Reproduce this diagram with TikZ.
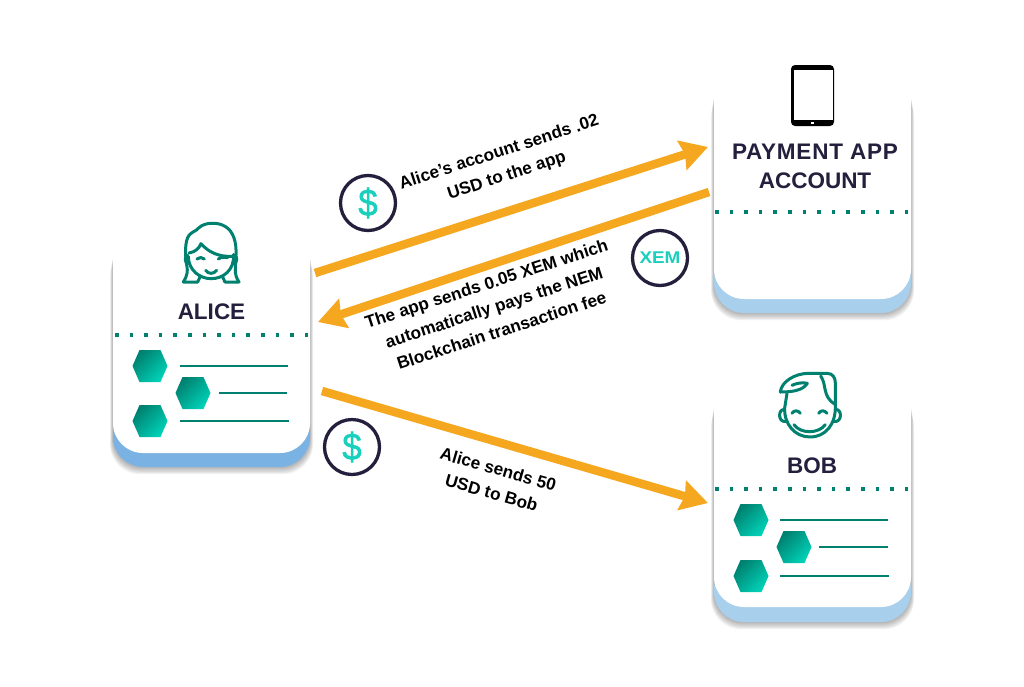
\documentclass[tikz,border=0pt]{standalone}
\usepackage{fontspec}
\usepackage{graphicx}
\setmainfont{Liberation Sans}
\newfontfamily\dollarfont[FakeBold=1.2]{Liberation Sans}
\usetikzlibrary{arrows.meta}
\definecolor{ink}{HTML}{231F3D}
\definecolor{teal}{HTML}{00806F}
\definecolor{mint}{HTML}{00D2B8}
\definecolor{cyanc}{HTML}{18D0BB}
\definecolor{orangec}{HTML}{F5A81F}
\definecolor{blueA}{HTML}{7AB3E3}
\definecolor{blueB}{HTML}{A8CFEC}
\tikzset{
  flow/.style={draw=orangec,line width=8.5pt,-{Stealth[length=27pt,width=30pt,inset=3pt]}},
  iconline/.style={draw=teal,line width=3pt,line cap=round,line join=round,fill=none},
  listline/.style={draw=teal,line width=2pt},
  dots/.style={draw=teal,line width=3.5pt,dash pattern=on 3.5pt off 11.1pt},
  title/.style={text=ink,font=\fontsize{22.5}{29}\selectfont\bfseries,align=center,inner sep=0pt},
  flowlabel/.style={text=black,font=\fontsize{17.2}{24.5}\selectfont\bfseries,align=center,inner sep=0pt},
  coin/.style={circle,draw=ink,line width=3.3pt,minimum size=55pt,inner sep=0pt,text=cyanc},
  cardface/.style={rounded corners=30pt,minimum width=197pt,inner sep=0pt,outer sep=0pt,fill=white},
}
% shadow: left, top, right, blue bottom
\newcommand{\cardshadow}[4]{%
  \foreach \k in {1,...,6}{%
    \fill[black,opacity=.05,rounded corners=30pt]
      ({#1-.5*\k},{#2+5+3*\k}) rectangle ({#3+.5*\k},{#4+1.2*\k});
  }%
}
\newcommand{\hexa}[2]{%
  \shade[top color=teal,bottom color=mint,shading angle=45]
    ({#1-17.5},#2) -- ({#1-10.5},{#2-16}) -- ({#1+10.5},{#2-16}) -- ({#1+17.5},#2)
    -- ({#1+10.5},{#2+16}) -- ({#1-10.5},{#2+16}) -- cycle;
}
\begin{document}
\begin{tikzpicture}[x=1pt,y=-1pt]
\useasboundingbox (0,0) rectangle (1024,686);
\fill[white] (0,0) rectangle (1024,686);

% ---------- cards
\cardshadow{113}{225}{310}{467}
\node[cardface,fill=blueA,minimum height=67pt] (aliceback) at (211.5,433.5) {};
\node[cardface,minimum height=228pt] (alice) at (211.5,339) {};
\cardshadow{714}{65}{911}{313}
\node[cardface,fill=blueB,minimum height=63pt] (appback) at (812.5,281.5) {};
\node[cardface,minimum height=234pt] (app) at (812.5,182) {};
\cardshadow{714}{375}{911}{622}
\node[cardface,fill=blueB,minimum height=62pt] (bobback) at (812.5,591) {};
\node[cardface,minimum height=232pt] (bob) at (812.5,491) {};

% ---------- titles
\node[title] (alicetitle) at (211.5,311.5) {ALICE};
\node[title] (apptitle) at (815,166) {{\addfontfeature{LetterSpace=3.5}PAYMENT APP}\\ACCOUNT};
\node[title] (bobtitle) at (812,465.5) {BOB};

% ---------- dotted rules
\draw[dots] (115,335) -- (310,335);
\draw[dots] (715,212) -- (911,212);
\draw[dots] (715,489) -- (911,489);

% ---------- lists
\hexa{150}{366}\hexa{193}{393}\hexa{150}{421}
\draw[listline] (180,366) -- (288,366);
\draw[listline] (219,393) -- (287,393);
\draw[listline] (180,421) -- (289,421);
\hexa{751}{520}\hexa{794}{547}\hexa{751}{576}
\draw[listline] (780,520) -- (888,520);
\draw[listline] (819,547) -- (888,547);
\draw[listline] (780,576) -- (889,576);

% ---------- tablet
\fill[black,rounded corners=4pt] (791,65) rectangle (834,126);
\fill[white] (793.7,70) rectangle (832.5,120);
\fill[white] (811,122.2) rectangle (814,124);

% ---------- Alice icon
\begin{scope}[shift={(175,217)},x=.3333pt,y=-.3333pt]
  \draw[iconline] (68,195) -- (25,195) .. controls (38,175) and (38,160) .. (36,150)
    .. controls (32,125) and (28,85) .. (38,62)
    .. controls (48,42) and (62,45) .. (72,32)
    .. controls (90,15) and (130,15) .. (150,28)
    .. controls (175,42) and (185,75) .. (183,115)
    .. controls (182,150) and (175,170) .. (192,195) -- (150,195);
  \draw[iconline] (42,108) .. controls (60,105) and (72,95) .. (78,80)
    .. controls (100,105) and (130,120) .. (172,118);
  \draw[iconline] (40,118) .. controls (40,160) and (75,185) .. (108,185)
    .. controls (145,185) and (178,160) .. (176,112);
  \draw[iconline] (68,195) -- (76,178);
  \draw[iconline] (150,195) -- (142,178);
  \draw[iconline] (38,115) .. controls (28,115) and (28,140) .. (40,140);
  \draw[iconline] (178,115) .. controls (188,115) and (188,140) .. (176,140);
  \draw[iconline] (66,126) .. controls (72,120) and (82,120) .. (88,126);
  \draw[iconline] (130,126) .. controls (138,120) and (150,120) .. (158,122);
  \draw[iconline] (92,160) .. controls (100,172) and (116,172) .. (125,160);
\end{scope}

% ---------- Bob icon
\begin{scope}[shift={(772,368)},x=.3333pt,y=-.3333pt]
  \draw[iconline] (25,72) .. controls (28,40) and (70,16) .. (110,16) -- (165,16)
    .. controls (183,16) and (190,30) .. (190,45) -- (190,112);
  \draw[iconline] (25,72) .. controls (60,72) and (92,68) .. (106,46)
    .. controls (92,42) and (72,46) .. (60,52);
  \draw[iconline] (146,24) .. controls (165,50) and (150,85) .. (188,108);
  \draw[iconline] (45,76) -- (38,120) .. controls (36,170) and (70,207) .. (114,207)
    .. controls (160,207) and (192,170) .. (190,112);
  \draw[iconline] (38,125) .. controls (18,120) and (16,165) .. (42,160);
  \draw[iconline] (190,125) .. controls (210,120) and (212,165) .. (186,160);
  \draw[iconline] (60,136) .. controls (66,126) and (78,126) .. (85,136);
  \draw[iconline] (140,136) .. controls (146,126) and (158,126) .. (165,136);
  \draw[iconline] (66,170) .. controls (85,198) and (140,198) .. (160,170);
\end{scope}

% ---------- connectors
\coordinate (a1) at (315,273);
\coordinate (b1) at (708,147);
\coordinate (a2) at (709,192);
\coordinate (b2) at (318,322);
\coordinate (a3) at (322,391);
\coordinate (b3) at (708,503);
\draw[flow] (a1) -- (b1);
\draw[flow] (a2) -- (b2);
\draw[flow] (a3) -- (b3);

% ---------- labels
\node[flowlabel,rotate=18] (l1) at (503,164.5) {Alice’s account sends .02\\USD to the app};
\node[flowlabel,rotate=18] (l2) at (494,307) {The app sends 0.05 XEM which\\automatically pays the NEM\\Blockchain transaction fee};
\node[flowlabel,rotate=-16] (l3) at (495,481) {Alice sends 50\\USD to Bob};

% ---------- coins
\node[coin,font=\fontsize{38}{38}\selectfont\dollarfont] (c1) at (368,203) {\scalebox{.92}[1]{\$}};
\node[coin,font=\fontsize{17}{17}\selectfont\bfseries] (c2) at (660,258) {\scalebox{1.11}[1]{XEM}};
\node[coin,font=\fontsize{38}{38}\selectfont\dollarfont] (c3) at (352,447) {\scalebox{.92}[1]{\$}};
\end{tikzpicture}
\end{document}
